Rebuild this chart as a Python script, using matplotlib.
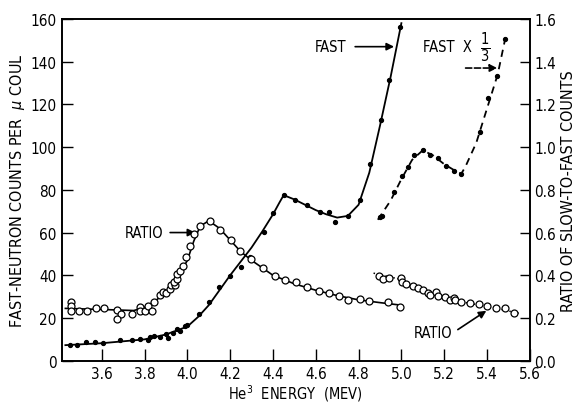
import numpy as np
import matplotlib
matplotlib.use('Agg')
import matplotlib.pyplot as plt

plt.rcParams['font.family'] = ['DejaVu Sans']
plt.rcParams['font.stretch'] = 'condensed'

# fast-neutron counts (filled dots), left axis
fast_x = [3.451, 3.486, 3.526, 3.567, 3.607, 3.683, 3.742, 3.780, 3.814, 3.826,
          3.845, 3.873, 3.901, 3.908, 3.933, 3.952, 3.967, 3.989, 3.998, 4.056,
          4.103, 4.147, 4.201, 4.250, 4.295, 4.358, 4.402, 4.451, 4.502, 4.558,
          4.620, 4.664, 4.692, 4.751, 4.808, 4.855, 4.905, 4.944, 4.995]
fast_y = [7.35, 7.2, 8.6, 8.6, 8.4, 9.55, 9.7, 10.0, 9.8, 11.0,
          11.6, 11.2, 12.4, 10.5, 13.0, 14.8, 13.9, 16.1, 16.7, 21.9,
          27.3, 34.3, 39.7, 44.1, 48.6, 60.4, 69.1, 77.6, 75.4, 72.9,
          69.5, 69.5, 64.8, 67.6, 75.1, 92.1, 112.7, 131.6, 156.0]
fast_cx = [3.43, 3.6, 3.8, 3.9, 4.0, 4.05, 4.1, 4.15, 4.2, 4.25, 4.3, 4.35, 4.4,
           4.43, 4.45, 4.5, 4.55, 4.6, 4.65, 4.7, 4.75, 4.8, 4.85, 4.9, 4.95, 5.0]
fast_cy = [7.3, 8.2, 10.0, 12.3, 16.0, 20.5, 26.0, 33.0, 40.0, 46.5, 53.0, 60.5, 68.5,
           74.0, 77.5, 75.5, 73.0, 70.5, 68.5, 67.0, 67.8, 73.0, 88.0, 110.0, 133.0, 158.0]

# fast x 1/3 (dashed), left axis
f3_x = [4.899, 4.909, 4.967, 5.002, 5.030, 5.061, 5.100, 5.136, 5.171, 5.209,
        5.246, 5.280, 5.367, 5.406, 5.447, 5.486]
f3_y = [67.1, 67.6, 79.0, 86.6, 90.6, 96.3, 98.7, 96.3, 94.8, 91.3,
        89.0, 87.4, 107.1, 123.0, 133.2, 150.8]
f3_cx = [4.89, 4.95, 5.0, 5.05, 5.1, 5.15, 5.2, 5.25, 5.28, 5.3, 5.35, 5.4, 5.45, 5.49]
f3_cy = [66.0, 75.0, 85.0, 94.0, 98.5, 96.0, 92.0, 89.0, 87.5, 91.0, 102.0, 118.0, 134.0, 153.0]

# slow-to-fast ratio (open circles), right axis
r1_x = [3.457, 3.457, 3.457, 3.492, 3.530, 3.573, 3.611, 3.670, 3.692, 3.670,
        3.742, 3.780, 3.780, 3.804, 3.814, 3.836, 3.842, 3.873, 3.886, 3.901,
        3.917, 3.924, 3.942, 3.936, 3.952, 3.952, 3.967, 3.980, 3.995, 4.011,
        4.029, 4.061, 4.108, 4.151, 4.202, 4.248, 4.299, 4.355, 4.408, 4.455,
        4.506, 4.561, 4.615, 4.662, 4.709, 4.749, 4.808, 4.850, 4.939, 4.994]
r1_y = [0.273, 0.255, 0.234, 0.234, 0.234, 0.245, 0.245, 0.239, 0.219, 0.195,
        0.219, 0.250, 0.234, 0.234, 0.255, 0.234, 0.273, 0.308, 0.320, 0.317,
        0.336, 0.354, 0.354, 0.370, 0.383, 0.407, 0.421, 0.442, 0.484, 0.538,
        0.593, 0.632, 0.656, 0.613, 0.565, 0.512, 0.476, 0.433, 0.395, 0.379,
        0.367, 0.344, 0.325, 0.318, 0.302, 0.284, 0.288, 0.280, 0.273, 0.253]
r1_cx = [3.43, 3.6, 3.75, 3.8, 3.85, 3.9, 3.95, 4.0, 4.03, 4.06, 4.1, 4.15, 4.2,
         4.25, 4.3, 4.4, 4.5, 4.6, 4.7, 4.8, 4.9, 5.0]
r1_cy = [0.245, 0.24, 0.235, 0.25, 0.28, 0.32, 0.38, 0.47, 0.56, 0.63, 0.655, 0.62,
         0.565, 0.51, 0.47, 0.40, 0.36, 0.33, 0.305, 0.285, 0.272, 0.26]

r2_x = [4.897, 4.913, 4.944, 4.998, 5.002, 5.022, 5.053, 5.077, 5.100, 5.124,
        5.136, 5.164, 5.173, 5.202, 5.225, 5.246, 5.252, 5.277, 5.321, 5.361,
        5.402, 5.443, 5.483, 5.524]
r2_y = [0.398, 0.383, 0.386, 0.387, 0.370, 0.359, 0.348, 0.339, 0.332, 0.317,
        0.308, 0.320, 0.304, 0.297, 0.286, 0.292, 0.286, 0.276, 0.270, 0.264,
        0.255, 0.245, 0.245, 0.222]
r2_cx = [4.87, 5.0, 5.1, 5.2, 5.3, 5.4, 5.55]
r2_cy = [0.41, 0.38, 0.33, 0.295, 0.272, 0.255, 0.222]

xticks = [3.6, 3.8, 4.0, 4.2, 4.4, 4.6, 4.8, 5.0, 5.2, 5.4, 5.6]
lticks = [0, 20, 40, 60, 80, 100, 120, 140, 160]
rticks = [0.0, 0.2, 0.4, 0.6, 0.8, 1.0, 1.2, 1.4, 1.6]

fig = plt.figure(figsize=(5.79, 4.06), dpi=100)
ax = fig.add_axes([0.107, 0.109, 0.808, 0.842])
ax2 = ax.twinx()

ax.plot(fast_cx, fast_cy, 'k-', lw=1.3)
ax.plot(fast_x, fast_y, 'ko', ms=2.8)
ax.plot(f3_cx, f3_cy, 'k--', lw=1.3, dashes=(4, 3))
ax.plot(f3_x, f3_y, 'ko', ms=2.8)

ax2.plot(r1_cx, r1_cy, 'k-', lw=1.2)
ax2.plot(r1_x, r1_y, 'o', mfc='white', mec='k', mew=0.9, ms=5)
ax2.plot(r2_cx, r2_cy, 'k:', lw=1.1)
ax2.plot(r2_x, r2_y, 'o', mfc='white', mec='k', mew=0.9, ms=5)

ax.set_xlim(3.414, 5.6)
ax.set_ylim(0, 160)
ax2.set_ylim(0, 1.6)
ax.set_xticks(xticks)
ax.set_xticklabels(['%.1f' % v for v in xticks])
ax.set_yticks(lticks)
ax2.set_yticks(rticks)
ax2.set_yticklabels(['%.1f' % v for v in rticks])
ax.tick_params(direction='in', length=9, width=1.0, labelsize=11, pad=4)
ax.tick_params(axis='y', length=8)
ax2.tick_params(direction='in', length=7, width=1.0, labelsize=11, pad=3)
for a in (ax, ax2):
    for s in a.spines.values():
        s.set_linewidth(1.2)

ax.set_xlabel('He$^3$  ENERGY  (MEV)', fontsize=10.5, labelpad=1)
ax.set_ylabel('FAST-NEUTRON COUNTS PER  $\\mu$ COUL', fontsize=11.5, labelpad=2)
ax2.set_ylabel('RATIO OF SLOW-TO-FAST COUNTS', fontsize=11.5, labelpad=4)

# annotations
ax.annotate('FAST', xy=(4.966, 147), xytext=(4.745, 147), fontsize=10.5,
            ha='right', va='center',
            arrowprops=dict(arrowstyle='-|>', color='k', lw=1.2, mutation_scale=11,
                            shrinkA=4, shrinkB=0))
ax.text(5.10, 147, 'FAST  X', fontsize=10.5, ha='left', va='center')
ax.text(5.39, 147, '$\\frac{1}{3}$', fontsize=15, ha='center', va='center')
ax.annotate('', xy=(5.448, 137), xytext=(5.30, 137),
            arrowprops=dict(arrowstyle='-|>', color='k', lw=1.2, ls='--',
                            mutation_scale=11, shrinkA=0, shrinkB=0))
ax.annotate('RATIO', xy=(4.037, 60), xytext=(3.887, 60), fontsize=10.5,
            ha='right', va='center',
            arrowprops=dict(arrowstyle='-|>', color='k', lw=1.2, mutation_scale=11,
                            shrinkA=3, shrinkB=0))
ax.annotate('RATIO', xy=(5.397, 23.4), xytext=(5.24, 13.0), fontsize=10.5,
            ha='right', va='center',
            arrowprops=dict(arrowstyle='-|>', color='k', lw=1.2, mutation_scale=11,
                            relpos=(1.0, 0.5), shrinkA=2, shrinkB=0))

fig.savefig('out.png', dpi=100)
